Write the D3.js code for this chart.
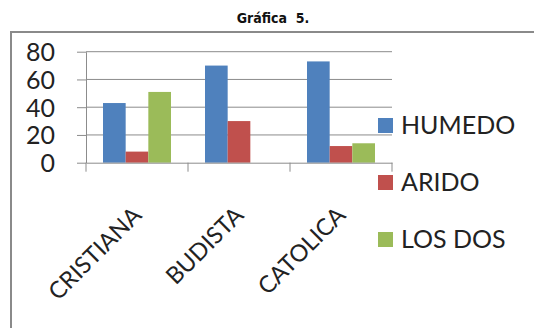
<!DOCTYPE html>
<html>
<head>
<meta charset="utf-8">
<script src="https://cdn.jsdelivr.net/npm/d3@7"></script>
<style>
  html, body { margin: 0; padding: 0; background: #fff; }
  svg { display: block; }
</style>
</head>
<body>
<svg id="chart" width="534" height="328"></svg>
<script>
// Categories, series and tick labels
const categories = ["CRISTIANA", "BUDISTA", "CATOLICA"];
const seriesNames = ["HUMEDO", "ARIDO", "LOS DOS"];
const humedo = [43, 70, 73];
const arido = [8, 30, 12];
const losDos = [51, 0, 14];
const yTicks = [0, 20, 40, 60, 80];
const colors = ["#4f81bd", "#c0504d", "#9bbb59"];
const title = "Gráfica  5.";

const seriesValues = [humedo, arido, losDos];

const svg = d3.select("#chart");
const font = "Lato, 'Liberation Sans', sans-serif";

// Title
svg.append("text")
  .attr("x", 273).attr("y", 22.5)
  .attr("text-anchor", "middle")
  .attr("font-family", "'Liberation Sans Narrow', 'DejaVu Sans Condensed', 'Liberation Sans', sans-serif")
  .attr("font-weight", "bold")
  .attr("font-size", 14)
  .attr("fill", "#111")
  .style("white-space", "pre")
  .text(title);

// Chart frame
svg.append("rect")
  .attr("x", 11).attr("y", 32)
  .attr("width", 560).attr("height", 320)
  .attr("fill", "#fff")
  .attr("stroke", "#8a8a8a")
  .attr("stroke-width", 2);

// Scales
const x = d3.scaleBand().domain(categories).range([86, 392]).padding(0);
const x1 = d3.scaleBand().domain(seriesNames).range([0, x.bandwidth()])
  .paddingInner(0).paddingOuter(0.75);
const y = d3.scaleLinear().domain([0, 80]).range([162.7, 51.7]);

// Gridlines
svg.append("g")
  .selectAll("line")
  .data(yTicks.filter(d => d > 0))
  .join("line")
  .attr("x1", x.range()[0]).attr("x2", x.range()[1])
  .attr("y1", d => y(d)).attr("y2", d => y(d))
  .attr("stroke", "#8c8c8c").attr("stroke-width", 1);

// Bars
const rows = categories.map((c, i) => ({
  cat: c,
  vals: seriesNames.map((s, k) => ({ s, k, v: seriesValues[k][i] }))
}));
svg.append("g")
  .selectAll("g")
  .data(rows)
  .join("g")
  .attr("transform", d => `translate(${x(d.cat)},0)`)
  .selectAll("rect")
  .data(d => d.vals.filter(e => e.v > 0))
  .join("rect")
  .attr("x", d => x1(d.s))
  .attr("width", x1.bandwidth())
  .attr("y", d => y(d.v))
  .attr("height", d => y(0) - y(d.v))
  .attr("fill", d => colors[d.k]);

// Value axis
const yAxis = svg.append("g")
  .attr("transform", `translate(${x.range()[0]},0)`)
  .call(d3.axisLeft(y).tickValues(yTicks).tickSize(9).tickPadding(22).tickSizeOuter(0));
yAxis.select(".domain").attr("stroke", "#8c8c8c");
yAxis.selectAll(".tick line").attr("stroke", "#8c8c8c");
yAxis.selectAll(".tick text")
  .attr("font-family", font).attr("font-size", 25).attr("fill", "#222")
  .attr("dy", "0.36em");

// Category axis: baseline with ticks at band boundaries
const xAxis = svg.append("g")
  .attr("transform", `translate(0,${y(0)})`)
  .call(d3.axisBottom(x).tickSize(0).tickSizeOuter(0).tickFormat(""));
xAxis.select(".domain").attr("stroke", "#8c8c8c");
const bounds = categories.map(c => x(c)).concat([x.range()[1]]);
xAxis.selectAll(".bound")
  .data(bounds)
  .join("line")
  .attr("class", "bound")
  .attr("x1", d => d).attr("x2", d => d)
  .attr("y1", 0).attr("y2", 9)
  .attr("stroke", "#8c8c8c");

// Rotated category labels
svg.append("g")
  .selectAll("text")
  .data(categories)
  .join("text")
  .attr("transform", c => `translate(${x(c) + x.bandwidth() / 2 + 6},${y(0) + 54}) rotate(-45)`)
  .attr("text-anchor", "end")
  .attr("font-family", font).attr("font-size", 23.5).attr("fill", "#222")
  .text(c => c);

// Legend
const legend = svg.append("g")
  .selectAll("g")
  .data(seriesNames)
  .join("g")
  .attr("transform", (d, i) => `translate(378,${118 + i * 57})`);
legend.append("rect")
  .attr("width", 15).attr("height", 15)
  .attr("fill", (d, i) => colors[i]);
legend.append("text")
  .attr("x", 23).attr("y", 16)
  .attr("font-family", font).attr("font-size", 25).attr("fill", "#222")
  .text(d => d);
</script>
</body>
</html>
